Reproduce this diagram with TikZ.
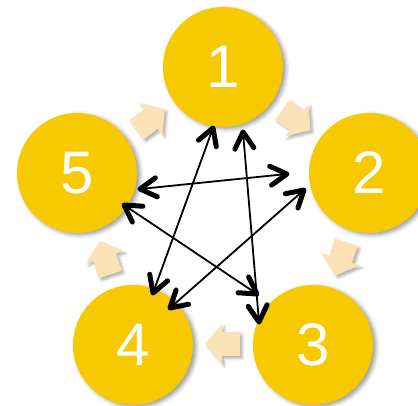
\documentclass[tikz,border=0pt]{standalone}
\usepackage{fontspec}
\setmainfont{Liberation Sans}
\usetikzlibrary{calc,shadows.blur}
\definecolor{gold}{RGB}{246,201,0}
\definecolor{peach}{RGB}{250,226,182}
\tikzset{
  circ/.style={circle,fill=gold,minimum size=120pt,inner sep=0pt,text=white,
    font=\fontsize{60}{60}\selectfont,
    blur shadow={shadow xshift=3pt,shadow yshift=-2pt,shadow blur radius=4pt,shadow opacity=40}},
  flowfill/.style={fill=peach,
    blur shadow={shadow xshift=2.5pt,shadow yshift=-2.5pt,shadow blur radius=2.5pt,shadow opacity=30}},
  shaft/.style={line width=1.8pt,line cap=round},
  barbline/.style={line width=5pt,line cap=round,line join=round},
  pics/flowarrow/.style={code={
    \path[flowfill] (-17,-12) -- (1,-12) -- (1,-20) -- (18,0) -- (1,20) -- (1,12) -- (-17,12) -- cycle;}}
}
\newcommand{\twoway}[2]{%
  \draw[shaft] ($(#1)!3pt!(#2)$) -- ($(#2)!3pt!(#1)$);
  \draw[barbline] ($(#1)!19pt!30:(#2)$) -- (#1) -- ($(#1)!19pt!-30:(#2)$);
  \draw[barbline] ($(#2)!19pt!30:(#1)$) -- (#2) -- ($(#2)!19pt!-30:(#1)$);}
\begin{document}
\begin{tikzpicture}[x=1pt,y=1pt]
\useasboundingbox (0,0) rectangle (418,406);
\node[circ] (c1) at (223,339) {1};
\node[circ] (c2) at (369,233) {2};
\node[circ] (c3) at (313,61) {3};
\node[circ] (c4) at (133,61) {4};
\node[circ] (c5) at (77,233) {5};
\coordinate (m) at (223,186);
\foreach \a in {126,54,-18,-90,198}
  \pic[rotate=\a-90] at ($(m)+(\a:124)$) {flowarrow};
\coordinate (p14a) at (213,278); \coordinate (p14b) at (153,113);
\coordinate (p13a) at (243,274); \coordinate (p13b) at (259,84);
\coordinate (p52a) at (140,217); \coordinate (p52b) at (287,232);
\coordinate (p53a) at (124,201); \coordinate (p53b) at (257,112);
\coordinate (p24a) at (304,216); \coordinate (p24b) at (170,98);
\twoway{p14a}{p14b}
\twoway{p13a}{p13b}
\twoway{p52a}{p52b}
\twoway{p53a}{p53b}
\twoway{p24a}{p24b}
\end{tikzpicture}
\end{document}
